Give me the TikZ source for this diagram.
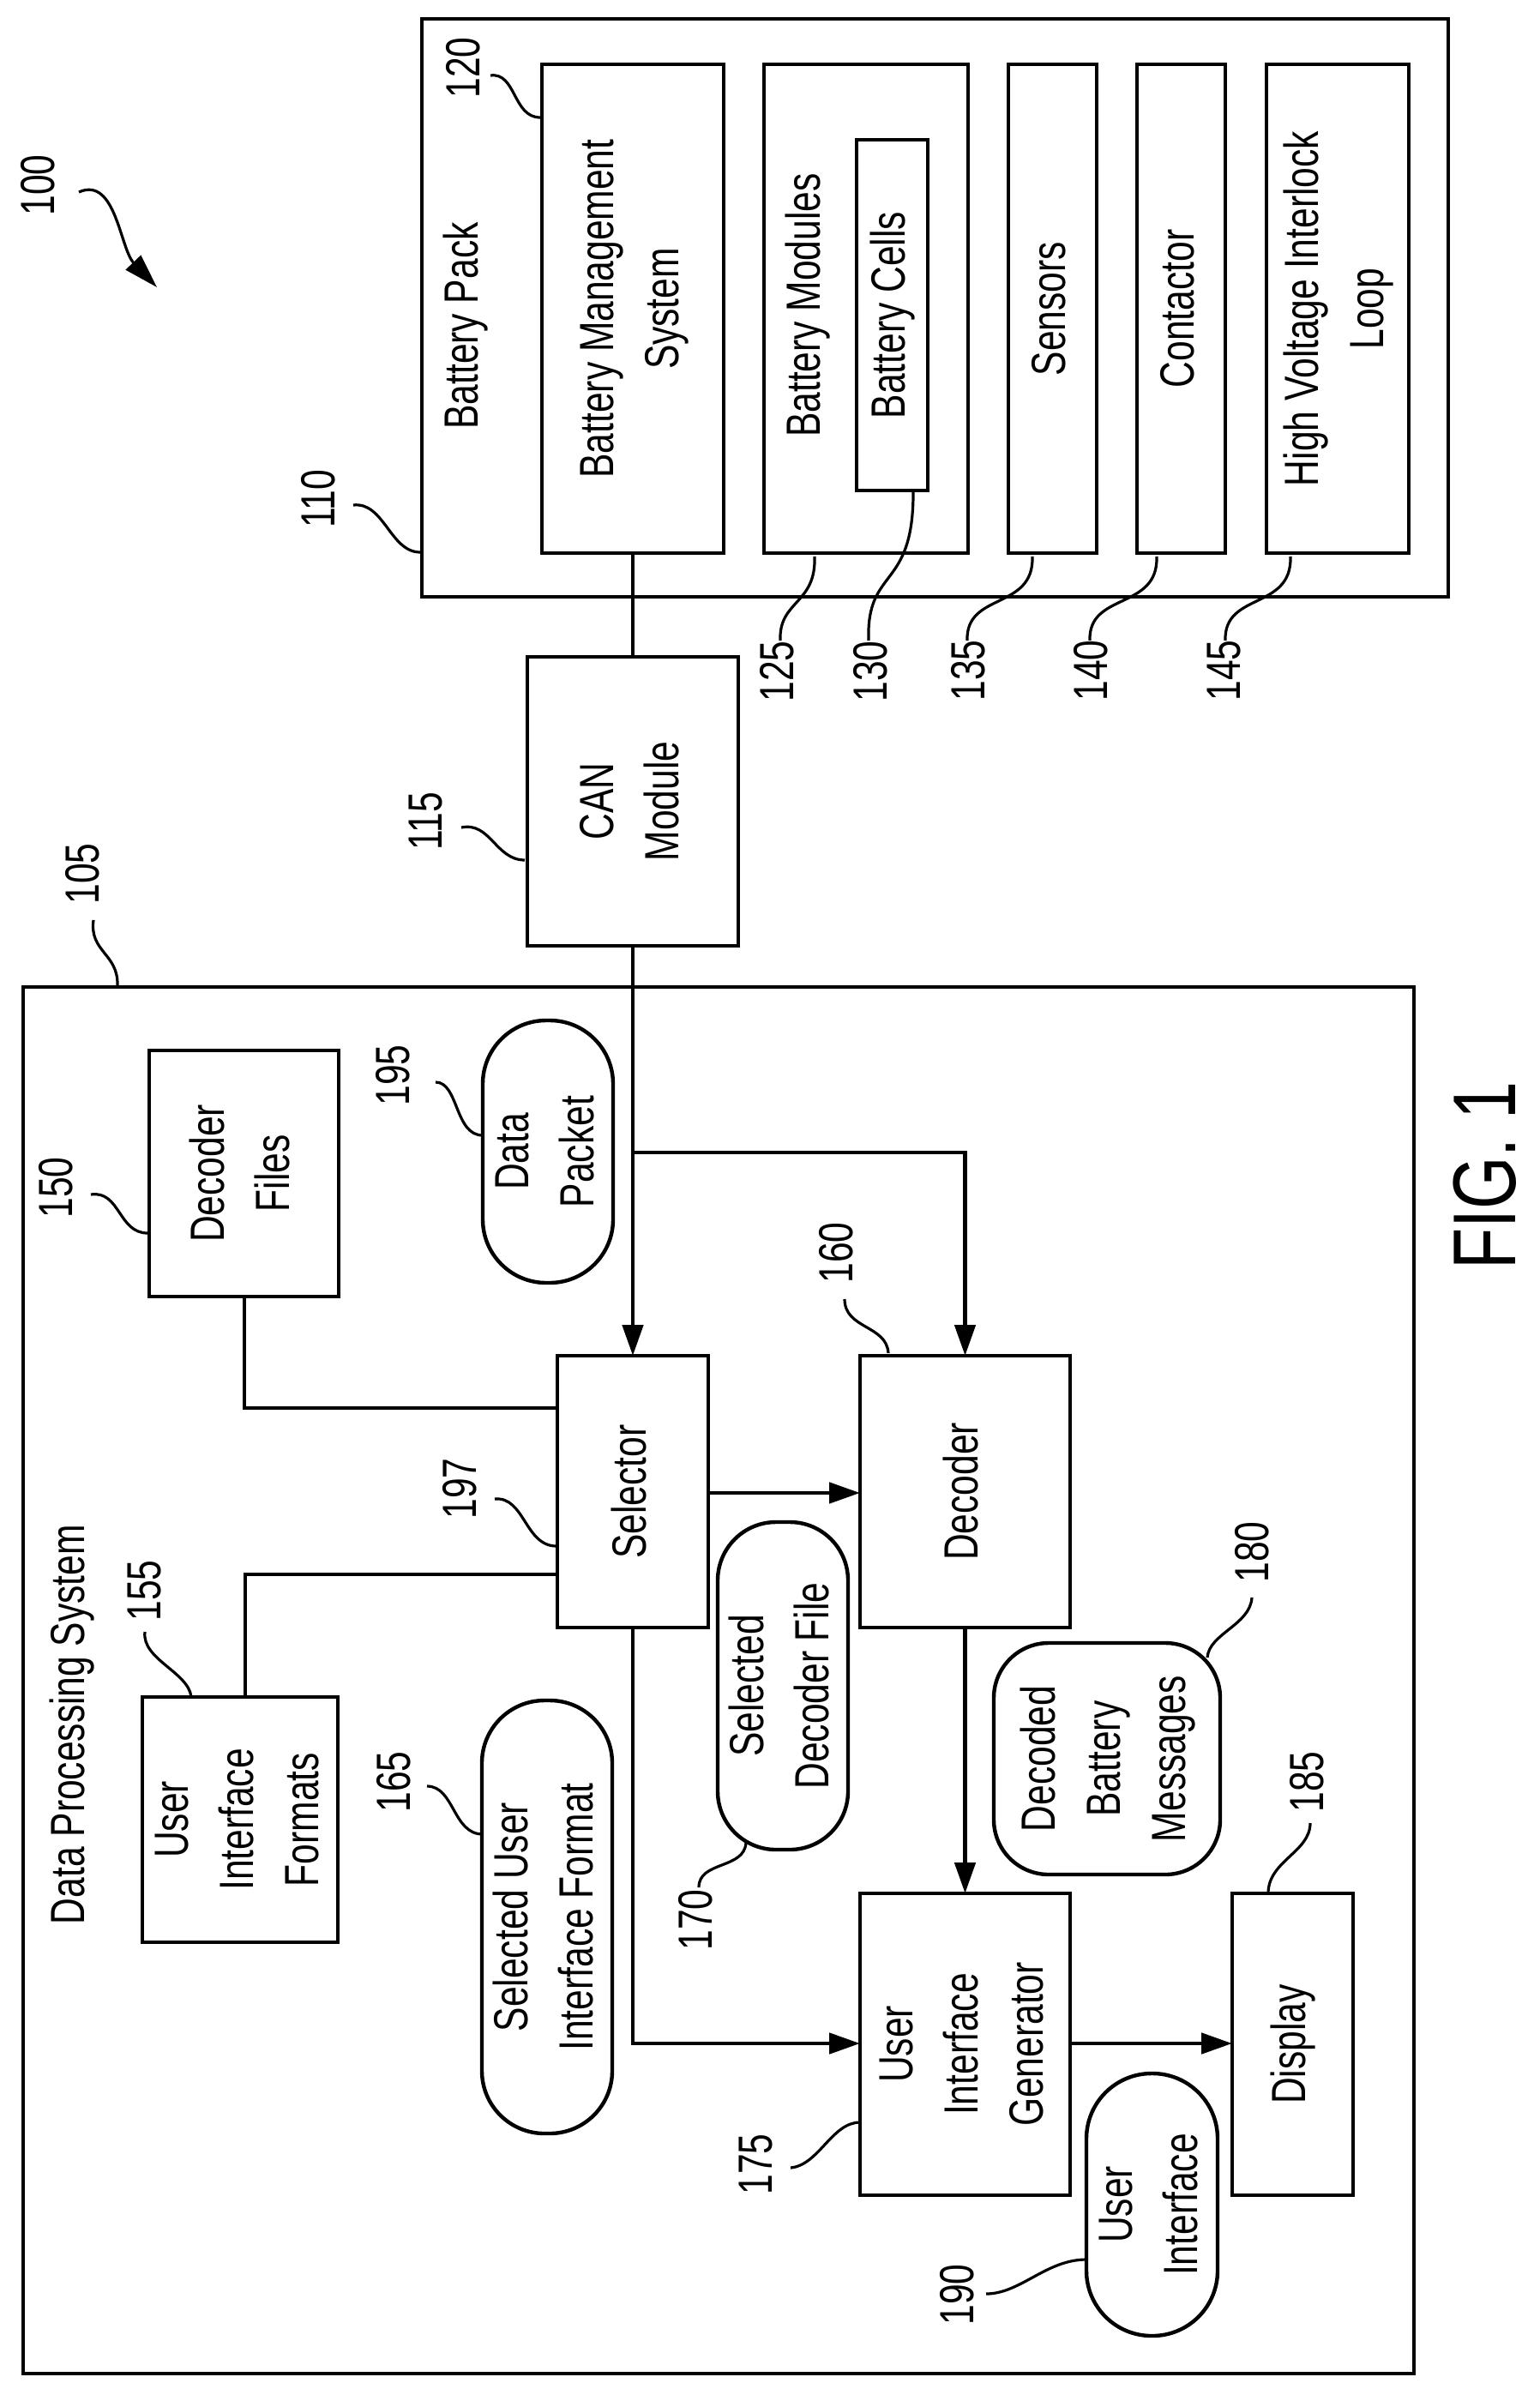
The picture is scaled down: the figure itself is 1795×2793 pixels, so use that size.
\documentclass[tikz,border=0pt]{standalone}
\usepackage{fontspec}
\setmainfont[FakeStretch=0.76]{Liberation Sans}
\usetikzlibrary{arrows.meta}
\newcommand\rt[1]{\rotatebox{90}{\begin{tabular}{@{}c@{}}#1\end{tabular}}}
\begin{document}
\begin{tikzpicture}[x=0.5pt,y=-0.5pt,
  every node/.style={font=\fontsize{28}{38}\selectfont, inner sep=0pt, outer sep=0pt},
  box/.style={draw, line width=2.4pt, rectangle},
  pill/.style={draw, line width=2.2pt, rectangle},
  con/.style={line width=2.4pt},
  arr/.style={line width=2.4pt, -{Triangle[length=18pt,width=12pt]}},
  lead/.style={line width=1.6pt}]
\useasboundingbox (0,0) rectangle (1795,2793);
% battery pack
\node[box, minimum width=598.5pt, minimum height=337pt] (bp) at (1090.5,359) {};
\node (bpl) at (542,380) {\rt{Battery Pack}};
\node[box, minimum width=106pt, minimum height=285pt] (bms) at (738,360) {\rt{Battery Management\\System}};
\node[box, minimum width=119pt, minimum height=285pt] (mod) at (1010,360) {};
\node (modl) at (941,356) {\rt{Battery Modules}};
\node[box, minimum width=41.5pt, minimum height=204.5pt] (cells) at (1040.5,367.5) {\rt{Battery Cells}};
\node[box, minimum width=51.5pt, minimum height=285pt] (sen) at (1227.5,360) {\rt{Sensors}};
\node[box, minimum width=51.5pt, minimum height=285pt] (cont) at (1377.5,360) {\rt{Contactor}};
\node[box, minimum width=83pt, minimum height=285pt] (hvil) at (1560,360) {\rt{High Voltage Interlock\\Loop}};
\node[box, minimum width=123pt, minimum height=168.5pt] (can) at (738,934.5) {\rt{CAN\\Module}};
% data processing system
\node[box, minimum width=811pt, minimum height=808.5pt] (dps) at (838,1959.5) {};
\node (dpsl) at (83,2011) {\rt{Data Processing System}};
\node[box, minimum width=110.5pt, minimum height=143.5pt] (df) at (284.5,1368.5) {\rt{Decoder\\Files}};
\node[pill, minimum width=75pt, minimum height=153pt, rounded corners=37pt] (dp) at (639,1343) {\rt{Data\\Packet}};
\node[box, minimum width=88pt, minimum height=158.5pt] (sel) at (738,1739.5) {\rt{Selector}};
\node[box, minimum width=122.5pt, minimum height=158.5pt] (dec) at (1125.5,1739.5) {\rt{Decoder}};
\node[box, minimum width=112pt, minimum height=143pt] (uif) at (280,2122) {\rt{User\\Interface\\Formats}};
\node[pill, minimum width=74pt, minimum height=252.5pt, rounded corners=36.5pt] (suif) at (638,2235.5) {\rt{Selected User\\Interface Format}};
\node[pill, minimum width=69pt, minimum height=191pt, rounded corners=34pt] (sdf) at (913,1966) {\rt{Selected\\Decoder File}};
\node[pill, minimum width=132pt, minimum height=135pt, rounded corners=32pt] (dbm) at (1291,2051) {\rt{Decoded\\Battery\\Messages}};
\node[box, minimum width=122.5pt, minimum height=176pt] (uig) at (1125.5,2384) {\rt{User\\Interface\\Generator}};
\node[box, minimum width=70.5pt, minimum height=176pt] (disp) at (1507.5,2384) {\rt{Display}};
\node[pill, minimum width=76.5pt, minimum height=153pt, rounded corners=38pt] (ui) at (1343.5,2571) {\rt{User\\Interface}};
% connectors
\draw[line width=1.8pt] (bms.south) -- (can.north);
\coordinate (br) at (738,1344);
\draw[arr] (can.south) -- (sel.north);
\draw[arr] (br) -| (dec.north);
\coordinate (dfc) at (285,1642);
\draw[con] (df.south -| dfc) |- (sel.west |- dfc);
\coordinate (uic) at (286,1836);
\draw[con] (uif.north -| uic) |- (sel.west |- uic);
\coordinate (sd) at (826,1741);
\draw[arr] (sd) -- (dec.west |- sd);
\coordinate (su) at (738,2383);
\draw[arr] (sel.south) |- (uig.west |- su);
\draw[arr] (dec.south) -- (uig.north);
\draw[arr] (uig.east |- su) -- (disp.west |- su);
% reference numerals
\node (n100) at (48,216) {\rt{100}};
\node (n120) at (544,79) {\rt{120}};
\node (n110) at (375,582) {\rt{110}};
\node (n125) at (910,783) {\rt{125}};
\node (n130) at (1019,783) {\rt{130}};
\node (n135) at (1133,782) {\rt{135}};
\node (n140) at (1276,782) {\rt{140}};
\node (n145) at (1431,782) {\rt{145}};
\node (n115) at (500,958) {\rt{115}};
\node (n105) at (100,1019) {\rt{105}};
\node (n150) at (69,1385) {\rt{150}};
\node (n195) at (462,1254) {\rt{195}};
\node (n197) at (540,1736) {\rt{197}};
\node (n160) at (979,1461) {\rt{160}};
\node (n155) at (172,1855) {\rt{155}};
\node (n165) at (463,2078) {\rt{165}};
\node (n170) at (815,2239) {\rt{170}};
\node (n180) at (1464,1810) {\rt{180}};
\node (n185) at (1528,2078) {\rt{185}};
\node (n175) at (885,2524) {\rt{175}};
\node (n190) at (1120,2676) {\rt{190}};
\node[font=\fontsize{52}{56}\selectfont] (fig) at (1732,1371) {\rotatebox{90}{FIG. 1}};
% leaders
\draw[lead, -{Triangle[length=20pt,width=12pt]}] (92,224) .. controls (135,205) and (140,290) .. (183,335);
\draw[lead] (572,88) .. controls (602,84) and (598,137) .. (630,137);
\draw[lead] (412,589) .. controls (448,585) and (455,644) .. (490,644);
\draw[lead] (950,649) .. controls (952,705) and (908,700) .. (910,747);
\draw[lead] (1065,572) .. controls (1066,690) and (1010,660) .. (1013,747);
\draw[lead] (1204,649) .. controls (1206,712) and (1126,690) .. (1128,747);
\draw[lead] (1349,649) .. controls (1351,712) and (1269,690) .. (1271,747);
\draw[lead] (1505,649) .. controls (1507,712) and (1427,690) .. (1429,747);
\draw[lead] (538,965) .. controls (572,958) and (578,1003) .. (612,1003);
\draw[lead] (109,1073) .. controls (104,1110) and (138,1112) .. (137,1149);
\draw[lead] (106,1393) .. controls (140,1388) and (138,1438) .. (172,1438);
\draw[lead] (508,1262) .. controls (535,1262) and (530,1324) .. (563,1324);
\draw[lead] (577,1748) .. controls (612,1745) and (612,1803) .. (649,1803);
\draw[lead] (985,1515) .. controls (985,1550) and (1034,1545) .. (1036,1578);
\draw[lead] (169,1903) .. controls (165,1935) and (220,1950) .. (223,1979);
\draw[lead] (498,2083) .. controls (530,2083) and (528,2139) .. (563,2139);
\draw[lead] (815,2201) .. controls (815,2170) and (868,2180) .. (870,2149);
\draw[lead] (1460,1863) .. controls (1458,1895) and (1410,1905) .. (1408,1933);
\draw[lead] (1528,2126) .. controls (1528,2160) and (1479,2170) .. (1479,2208);
\draw[lead] (922,2528) .. controls (955,2525) and (970,2475) .. (1003,2475);
\draw[lead] (1150,2675) .. controls (1190,2675) and (1220,2635) .. (1267,2635);
\end{tikzpicture}
\end{document}
